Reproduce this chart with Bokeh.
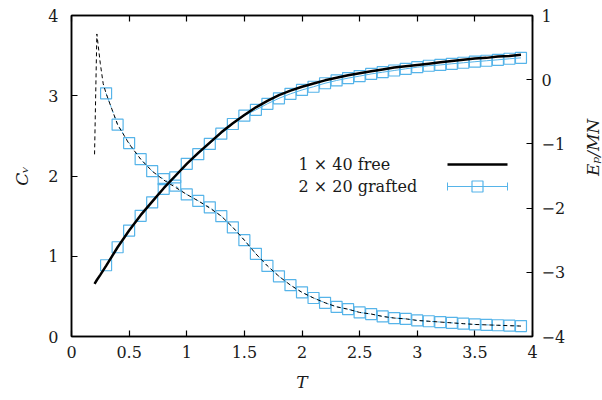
import math
from bokeh.plotting import figure
from bokeh.models import (Range1d, LinearAxis, Label, FixedTicker, Arrow, TeeHead,
                          BoxAnnotation)
from bokeh.embed import file_html
from bokeh.resources import INLINE

# ---- data ----
T_free = [0.2, 0.22, 0.25, 0.275, 0.3, 0.4, 0.5, 0.6, 0.7, 0.8, 0.9, 1.0, 1.1, 1.2, 1.3, 1.4,
          1.5, 1.6, 1.7, 1.8, 1.9, 2.0, 2.1, 2.2, 2.3, 2.4, 2.5, 2.6, 2.7, 2.8, 2.9, 3.0,
          3.1, 3.2, 3.3, 3.4, 3.5, 3.6, 3.7, 3.8, 3.9]
Cv_free = [2.27, 3.77, 3.40, 3.15, 3.03, 2.64, 2.40, 2.21, 2.06, 1.95, 1.86, 1.77, 1.69, 1.60,
           1.50, 1.36, 1.20, 1.03, 0.88, 0.75, 0.64, 0.55, 0.48, 0.42, 0.37, 0.34, 0.30,
           0.28, 0.25, 0.23, 0.22, 0.20, 0.19, 0.18, 0.17, 0.16, 0.15, 0.145, 0.14, 0.135, 0.13]
E_free = [-3.18, -3.12, -3.04, -2.97, -2.90, -2.61, -2.35, -2.11, -1.90, -1.69, -1.50, -1.31,
          -1.14, -0.98, -0.82, -0.68, -0.55, -0.43, -0.33, -0.24, -0.17, -0.11, -0.06, -0.01,
          0.03, 0.07, 0.10, 0.13, 0.16, 0.19, 0.21, 0.23, 0.25, 0.27, 0.29, 0.31, 0.33, 0.34,
          0.36, 0.37, 0.39]

T_graft = [0.3, 0.4, 0.5, 0.6, 0.7, 0.8, 0.9, 1.0, 1.1, 1.2, 1.3, 1.4, 1.5, 1.6, 1.7, 1.8,
           1.9, 2.0, 2.1, 2.2, 2.3, 2.4, 2.5, 2.6, 2.7, 2.8, 2.9, 3.0, 3.1, 3.2, 3.3, 3.4,
           3.5, 3.6, 3.7, 3.8, 3.9]
Cv_graft = [3.03, 2.64, 2.41, 2.21, 2.06, 1.96, 1.88, 1.77, 1.69, 1.61, 1.50, 1.36, 1.20,
            1.03, 0.88, 0.75, 0.64, 0.55, 0.48, 0.42, 0.37, 0.34, 0.30, 0.28, 0.25, 0.23,
            0.22, 0.20, 0.19, 0.18, 0.17, 0.16, 0.15, 0.145, 0.14, 0.135, 0.13]
E_graft = [-2.89, -2.61, -2.35, -2.12, -1.91, -1.70, -1.52, -1.31, -1.16, -1.00, -0.84,
           -0.69, -0.56, -0.47, -0.375, -0.29, -0.22, -0.16, -0.11, -0.055, -0.012, 0.025,
           0.056, 0.09, 0.117, 0.143, 0.17, 0.195, 0.217, 0.23, 0.248, 0.264, 0.28, 0.295,
           0.31, 0.326, 0.34]

x_ticks = [0, 0.5, 1, 1.5, 2, 2.5, 3, 3.5, 4]
cv_ticks = [0, 1, 2, 3, 4]
e_ticks = [-4, -3, -2, -1, 0, 1]
e_labels = {-4: "\u22124", -3: "\u22123", -2: "\u22122", -1: "\u22121", 0: "0", 1: "1"}
legend_labels = ["1 \u00d7 40 free", "2 \u00d7 20 grafted"]

BLUE = "#56b4e9"
FONT = "DejaVu Serif"
FS = "16px"
TXT = "#1a1a1a"

p = figure(frame_width=461, frame_height=321, x_range=Range1d(0, 4), y_range=Range1d(0, 4),
           output_backend="svg", toolbar_location=None,
           min_border_left=71, min_border_right=66, min_border_top=15, min_border_bottom=60)
p.extra_y_ranges = {"E": Range1d(-4, 1)}
p.xgrid.visible = False
p.ygrid.visible = False
p.outline_line_color = "black"
p.outline_line_width = 1.5
p.background_fill_color = "white"
p.border_fill_color = "white"

def style(ax):
    ax.major_tick_in = 6
    ax.major_tick_out = 0
    ax.minor_tick_in = 0
    ax.minor_tick_out = 0
    ax.axis_line_width = 1.5
    ax.major_tick_line_width = 1.2
    ax.major_label_text_font = FONT
    ax.major_label_text_font_size = FS
    ax.major_label_text_color = TXT
    ax.axis_label_text_font = FONT
    ax.axis_label_text_font_size = "17px"
    ax.axis_label_text_font_style = "italic"
    ax.axis_label_text_color = TXT

xa = p.xaxis[0]
xa.ticker = FixedTicker(ticks=x_ticks)
xa.axis_label = "T"
style(xa)
xa.major_label_standoff = 9
xa.axis_label_standoff = 11

ya = p.yaxis[0]
ya.ticker = FixedTicker(ticks=cv_ticks)
ya.axis_label = "C\u1d65"
style(ya)
ya.major_label_standoff = 13
ya.axis_label_standoff = 13

ra = LinearAxis(y_range_name="E", ticker=FixedTicker(ticks=e_ticks),
                axis_label="E\u209a/MN", major_label_overrides=e_labels)
style(ra)
ra.major_label_standoff = 9
ra.axis_label_standoff = 25
ra.axis_label_orientation = math.pi / 2
p.add_layout(ra, "right")

ta = LinearAxis(ticker=FixedTicker(ticks=x_ticks))
style(ta)
ta.major_label_text_color = None
ta.major_label_text_font_size = "1px"
ta.major_label_standoff = 0
p.add_layout(ta, "above")

# C_V curves (left axis)
p.line(T_graft, Cv_graft, line_color=BLUE, line_width=1, line_dash="3 3")
p.scatter(T_graft, Cv_graft, marker="square", size=11, fill_color=None,
          line_color=BLUE, line_width=1.2)
p.line(T_free, Cv_free, line_color="black", line_width=1, line_dash="4 3")

# energy curves (right axis)
p.line(T_graft, E_graft, line_color=BLUE, line_width=1, y_range_name="E")
p.scatter(T_graft, E_graft, marker="square", size=11, fill_color=None,
          line_color=BLUE, line_width=1.2, y_range_name="E")
p.line(T_free, E_free, line_color="black", line_width=2.5, y_range_name="E")

# legend (text left, sample right), positioned in screen units inside the frame
p.add_layout(Arrow(x_start=376, y_start=172, x_end=436, y_end=172,
                   start_units="screen", end_units="screen", start=None, end=None,
                   line_color="black", line_width=2.5))
p.add_layout(Arrow(x_start=376, y_start=150, x_end=436, y_end=150,
                   start_units="screen", end_units="screen",
                   start=TeeHead(size=8, line_color=BLUE, line_width=1),
                   end=TeeHead(size=8, line_color=BLUE, line_width=1),
                   line_color=BLUE, line_width=1))
p.add_layout(BoxAnnotation(left=400.5, right=411.5, bottom=144.5, top=155.5,
                           left_units="screen", right_units="screen",
                           bottom_units="screen", top_units="screen",
                           fill_color=None, fill_alpha=0, line_color=BLUE, line_width=1.2,
                           line_alpha=1))
for txt, yy in zip(legend_labels, [172, 150]):
    p.add_layout(Label(x=227, y=yy, x_units="screen", y_units="screen", text=txt,
                       text_font=FONT, text_font_size=FS, text_baseline="middle",
                       text_color=TXT))

open("out.html", "w").write(file_html(p, INLINE))
